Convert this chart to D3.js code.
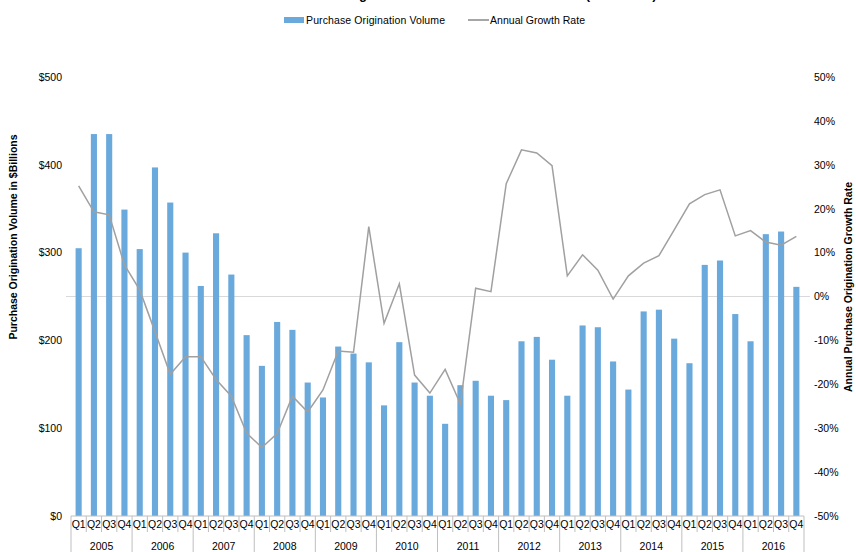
<!DOCTYPE html>
<html>
<head>
<meta charset="utf-8">
<script src="https://cdn.jsdelivr.net/npm/d3@7"></script>
<style>
body { margin: 0; background: #fff; }
text { font-family: "Liberation Sans", Arial, sans-serif; fill: #000; }
</style>
</head>
<body>
<script>
var years = ["2005", "2006", "2007", "2008", "2009", "2010", "2011", "2012", "2013", "2014", "2015", "2016"];
var quarters = ["Q1", "Q2", "Q3", "Q4"];

// purchase origination volume, $ billions
var volume = [
	305, 435, 435, 349,
	304, 397, 357, 300,
	262, 322, 275, 206,
	171, 221, 212, 152,
	135, 193, 185, 175,
	126, 198, 152, 137,
	105, 149, 154, 137,
	132, 199, 204, 178,
	137, 217, 215, 176,
	144, 233, 235, 202,
	174, 286, 291, 230,
	199, 321, 324, 261
];

// annual growth rate, %
var growth = [
	25.2, 19.3, 18.6, 7.2,
	1.5, -8.0, -17.7, -13.7,
	-13.7, -18.9, -22.7, -31.1,
	-34.4, -31.2, -22.7, -26.3,
	-21.3, -12.4, -12.7, 15.9,
	-6.1, 2.9, -17.9, -22.0,
	-16.6, -24.5, 1.9, 1.1,
	25.7, 33.4, 32.7, 29.8,
	4.7, 9.5, 6.0, -0.6,
	4.7, 7.6, 9.3, 15.2,
	21.1, 23.2, 24.3, 13.8,
	15.0, 12.4, 11.7, 13.7
];

var leftTicks = [0, 100, 200, 300, 400, 500];
var rightTicks = [-50, -40, -30, -20, -10, 0, 10, 20, 30, 40, 50];

var width = 856, height = 552;
var plotLeft = 71, plotRight = 804, plotTop = 77, plotBottom = 516;

var keys = [];
years.forEach(function(yr) {
	quarters.forEach(function(q) { keys.push(yr + "-" + q); });
});
var data = keys.map(function(k, i) {
	return {key: k, year: k.split("-")[0], q: k.split("-")[1], volume: volume[i], growth: growth[i]};
});

var x = d3.scaleBand()
	.domain(keys)
	.range([plotLeft, plotRight])
	.paddingInner(0.6)
	.paddingOuter(0.3);
var y = d3.scaleLinear()
	.domain([0, 500])
	.range([plotBottom, plotTop]);
var y2 = d3.scaleLinear()
	.domain([-50, 50])
	.range([plotBottom, plotTop]);

var svg = d3.select("body").append("svg")
	.attr("width", width)
	.attr("height", height);

// title, cropped off the top of the picture (only descenders show)
svg.append("text")
	.attr("x", 278)
	.attr("y", -1.2)
	.style("font-size", "13px")
	.style("font-weight", "bold")
	.text("Purchase Origination Volume and Annual Growth (2005-2016)");

// legend
var legend = svg.append("g").style("font-size", "10.5px");
legend.append("rect")
	.attr("x", 284).attr("y", 17).attr("width", 20).attr("height", 6)
	.attr("fill", "#6aa9dc");
legend.append("text")
	.attr("x", 306).attr("y", 24)
	.attr("textLength", 139)
	.text("Purchase Origination Volume");
legend.append("line")
	.attr("x1", 468).attr("x2", 489).attr("y1", 20).attr("y2", 20)
	.attr("stroke", "#a6a6a6").attr("stroke-width", 2);
legend.append("text")
	.attr("x", 490).attr("y", 24)
	.attr("textLength", 95)
	.text("Annual Growth Rate");

// zero growth gridline
svg.append("line")
	.attr("x1", 66).attr("x2", 810)
	.attr("y1", y2(0)).attr("y2", y2(0))
	.attr("stroke", "#d9d9d9").attr("stroke-width", 1.2);

// bars
svg.selectAll(".bar")
	.data(data)
	.enter().append("rect")
	.attr("class", "bar")
	.attr("x", function(d) { return x(d.key); })
	.attr("width", x.bandwidth())
	.attr("y", function(d) { return y(d.volume); })
	.attr("height", function(d) { return y(0) - y(d.volume); })
	.attr("fill", "#6aa9dc");

// growth line
var line = d3.line()
	.x(function(d) { return x(d.key) + x.bandwidth() / 2; })
	.y(function(d) { return y2(d.growth); });
svg.append("path")
	.datum(data)
	.attr("fill", "none")
	.attr("stroke", "#a0a0a0")
	.attr("stroke-width", 1.5)
	.attr("d", line);

// left axis
var leftAxis = svg.append("g")
	.attr("transform", "translate(62,0)")
	.call(d3.axisLeft(y).tickValues(leftTicks).tickSize(0).tickPadding(0)
		.tickFormat(function(d) { return "$" + d; }));
leftAxis.select(".domain").remove();
leftAxis.selectAll("text").style("font-size", "10.5px").style("font-family", "Liberation Sans, Arial, sans-serif");

// right axis
var rightAxis = svg.append("g")
	.attr("transform", "translate(814,0)")
	.call(d3.axisRight(y2).tickValues(rightTicks).tickSize(0).tickPadding(0)
		.tickFormat(function(d) { return (d < 0 ? "-" + (-d) : d) + "%"; }));
rightAxis.select(".domain").remove();
rightAxis.selectAll("text").style("font-size", "10.5px").style("font-family", "Liberation Sans, Arial, sans-serif");

// axis titles
svg.append("text")
	.attr("transform", "translate(17,237) rotate(-90)")
	.attr("text-anchor", "middle")
	.style("font-size", "10.5px")
	.style("font-weight", "bold")
	.text("Purchase Origination Volume in $Billions");
svg.append("text")
	.attr("transform", "translate(852,287) rotate(-90)")
	.attr("text-anchor", "middle")
	.style("font-size", "10.5px")
	.style("font-weight", "bold")
	.text("Annual Purchase Origination Growth Rate");

// category axis: quarters and years
var start = plotLeft;
var axisG = svg.append("g");
axisG.append("line")
	.attr("x1", start).attr("x2", plotRight)
	.attr("y1", plotBottom).attr("y2", plotBottom)
	.attr("stroke", "#bfbfbf");
axisG.selectAll(".qsep")
	.data(d3.range(keys.length + 1))
	.enter().append("line")
	.attr("x1", function(i) { return start + i * (plotRight - start) / keys.length; })
	.attr("x2", function(i) { return start + i * (plotRight - start) / keys.length; })
	.attr("y1", plotBottom)
	.attr("y2", function(i) { return i % 4 === 0 ? height : plotBottom + 16; })
	.attr("stroke", "#bfbfbf");
axisG.selectAll(".qlab")
	.data(data)
	.enter().append("text")
	.attr("x", function(d) { return x(d.key) + x.bandwidth() / 2; })
	.attr("y", plotBottom + 12)
	.attr("text-anchor", "middle")
	.style("font-size", "10.5px")
	.text(function(d) { return d.q; });
axisG.selectAll(".ylab")
	.data(years)
	.enter().append("text")
	.attr("x", function(yr) { return (x(yr + "-Q1") + x(yr + "-Q4") + x.bandwidth()) / 2; })
	.attr("y", plotBottom + 34)
	.attr("text-anchor", "middle")
	.style("font-size", "10.5px")
	.text(function(yr) { return yr; });
</script>
</body>
</html>
